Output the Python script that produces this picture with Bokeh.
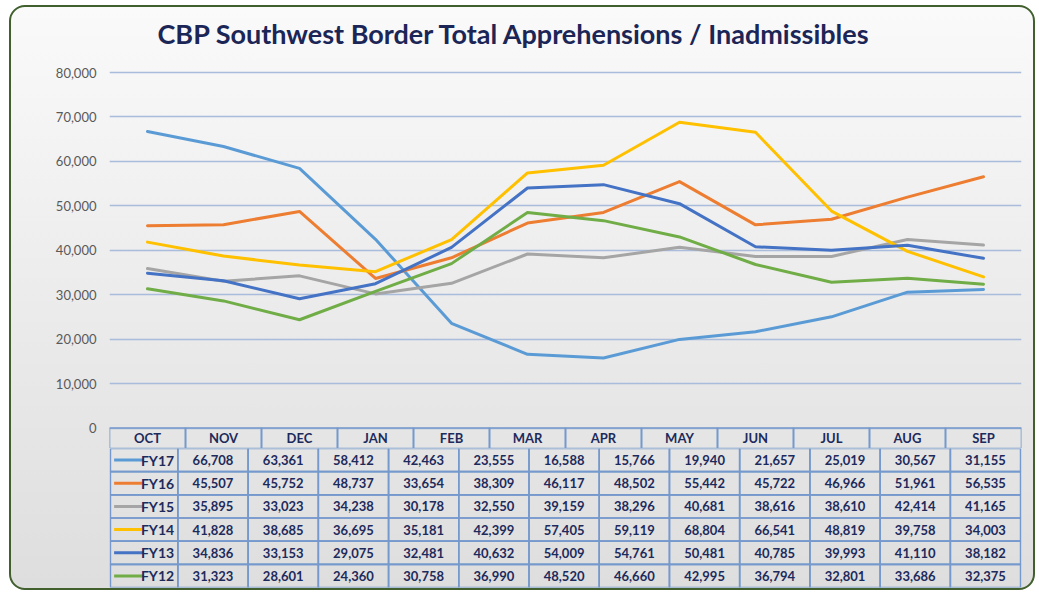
from bokeh.plotting import figure
from bokeh.models import ColumnDataSource, FactorRange, Range1d, FixedTicker, NumeralTickFormatter, Title
from bokeh.layouts import column
from bokeh.embed import file_html
from bokeh.resources import INLINE
from bokeh.core.properties import value

# ---------------- data ----------------
months = ["OCT", "NOV", "DEC", "JAN", "FEB", "MAR", "APR", "MAY", "JUN", "JUL", "AUG", "SEP"]
series_names = ["FY17", "FY16", "FY15", "FY14", "FY13", "FY12"]
fy17 = [66708, 63361, 58412, 42463, 23555, 16588, 15766, 19940, 21657, 25019, 30567, 31155]
fy16 = [45507, 45752, 48737, 33654, 38309, 46117, 48502, 55442, 45722, 46966, 51961, 56535]
fy15 = [35895, 33023, 34238, 30178, 32550, 39159, 38296, 40681, 38616, 38610, 42414, 41165]
fy14 = [41828, 38685, 36695, 35181, 42399, 57405, 59119, 68804, 66541, 48819, 39758, 34003]
fy13 = [34836, 33153, 29075, 32481, 40632, 54009, 54761, 50481, 40785, 39993, 41110, 38182]
fy12 = [31323, 28601, 24360, 30758, 36990, 48520, 46660, 42995, 36794, 32801, 33686, 32375]
y_ticks = [0, 10000, 20000, 30000, 40000, 50000, 60000, 70000, 80000]
title_text = "CBP Southwest Border Total Apprehensions / Inadmissibles"

series_values = [fy17, fy16, fy15, fy14, fy13, fy12]
colors = ["#5B9BD5", "#ED7D31", "#A5A5A5", "#FFC000", "#4472C4", "#70AD47"]

# ---------------- styles / layout ----------------
NAVY = "#1d2a5c"
TBL = "#7599cc"
GRID = "#a9bcdb"
FONT = "Lato"
W = 1022
TITLE_H = 50
TOP_H = 391
BOT_H = 140
PLOT_PX = 355.5      # pixels for 0..80,000
HDR_PX = 20.5        # header row height in pixels
PAD_PX = 2.0         # room above the top gridline
COL_PX = 76.0        # month column width in pixels
LABEL_PX = 74.0      # label column width
upp = 80000.0 / PLOT_PX
hdr = HDR_PX * upp
frame_h = PLOT_PX + HDR_PX + PAD_PX


def bare(fig):
    fig.background_fill_alpha = 0
    fig.border_fill_alpha = 0
    fig.outline_line_color = None
    return fig


# ---------------- title strip ----------------
t = bare(figure(width=W, height=TITLE_H, x_range=Range1d(0, 1), y_range=Range1d(0, 1),
                x_axis_location=None, y_axis_location=None,
                output_backend="svg", toolbar_location=None,
                min_border_left=98, min_border_right=12, min_border_top=42, min_border_bottom=0))
t.grid.visible = False
t.title = Title(text=title_text, align="left", offset=48, standoff=0,
                text_font=FONT, text_font_size="27px", text_font_style="bold",
                text_color="#1b2657")

# ---------------- chart + header row ----------------
p = bare(figure(width=W, height=TOP_H, x_range=FactorRange(*months),
                y_range=Range1d(-hdr, 80000 + PAD_PX * upp), x_axis_location=None,
                output_backend="svg", toolbar_location=None,
                min_border_left=98, min_border_right=12,
                min_border_top=int(round(TOP_H - frame_h)), min_border_bottom=0))

p.xgrid.visible = False
p.ygrid.ticker = FixedTicker(ticks=y_ticks)
p.ygrid.grid_line_color = GRID
p.ygrid.grid_line_width = 1.5

ax = p.yaxis[0]
ax.ticker = FixedTicker(ticks=y_ticks)
ax.formatter = NumeralTickFormatter(format="0,0")
ax.axis_line_color = None
ax.major_tick_line_color = None
ax.minor_tick_line_color = None
ax.major_tick_out = 0
ax.major_tick_in = 0
ax.major_label_standoff = 13
ax.major_label_text_font = FONT
ax.major_label_text_font_size = "13px"
ax.major_label_text_color = "#595959"

for name, vals, c in zip(series_names, series_values, colors):
    p.line(x=months, y=vals, line_color=c, line_width=3, line_join="round", line_cap="round")

hsrc = ColumnDataSource(dict(x=months, y=[-hdr / 2] * len(months), t=months))
p.rect(x="x", y="y", width=1, height=hdr, source=hsrc, fill_color=None,
       line_color=TBL, line_width=1.6)
p.text(x="x", y="y", text="t", source=hsrc, text_align="center", text_baseline="middle",
       text_font=value(FONT), text_font_size="13px", text_font_style="bold", text_color=NAVY)

# ---------------- data table ----------------
rows = series_names[::-1]
q = bare(figure(width=W, height=BOT_H,
                x_range=Range1d(-LABEL_PX / COL_PX, 12 + 1 / COL_PX),
                y_range=FactorRange(*rows), x_axis_location=None, y_axis_location=None,
                output_backend="svg", toolbar_location=None,
                min_border_left=24, min_border_right=11, min_border_top=0, min_border_bottom=1))
q.grid.visible = False

cx, cy, ct = [], [], []
for name, vals in zip(series_names, series_values):
    for i, v in enumerate(vals):
        cx.append(i + 0.5)
        cy.append(name)
        ct.append(f"{v:,}")
csrc = ColumnDataSource(dict(x=cx, y=cy, t=ct))
q.rect(x="x", y="y", width=1, height=1, source=csrc, fill_color=None,
       line_color=TBL, line_width=1.6)
q.text(x="x", y="y", text="t", source=csrc, text_align="center", text_baseline="middle",
       text_font=value(FONT), text_font_size="13px", text_font_style="bold", text_color=NAVY)

lab_w = (LABEL_PX - 1) / COL_PX
lsrc = ColumnDataSource(dict(
    x=[-lab_w / 2] * len(series_names), y=series_names, t=series_names, c=colors,
    x0=[-69 / COL_PX] * len(series_names), x1=[-37 / COL_PX] * len(series_names),
    xt=[-4 / COL_PX] * len(series_names)))
q.rect(x="x", y="y", width=lab_w, height=1, source=lsrc, fill_color=None,
       line_color=TBL, line_width=1.6)
q.segment(x0="x0", y0="y", x1="x1", y1="y", source=lsrc, line_color="c", line_width=3)
q.text(x="xt", y="y", text="t", source=lsrc, text_align="right", text_baseline="middle",
       text_font=value(FONT), text_font_size="14px", text_font_style="bold", text_color=NAVY)

layout = column(t, p, q, spacing=0, styles={
    "position": "relative",
    "left": "9px",
    "top": "5px",
    "border": "2px solid #41602e",
    "border-radius": "16px",
    "background": "linear-gradient(180deg, #fafafa 0%, #ededed 45%, #dedede 100%)",
    "overflow": "hidden",
})

open("out.html", "w").write(file_html(layout, INLINE))
